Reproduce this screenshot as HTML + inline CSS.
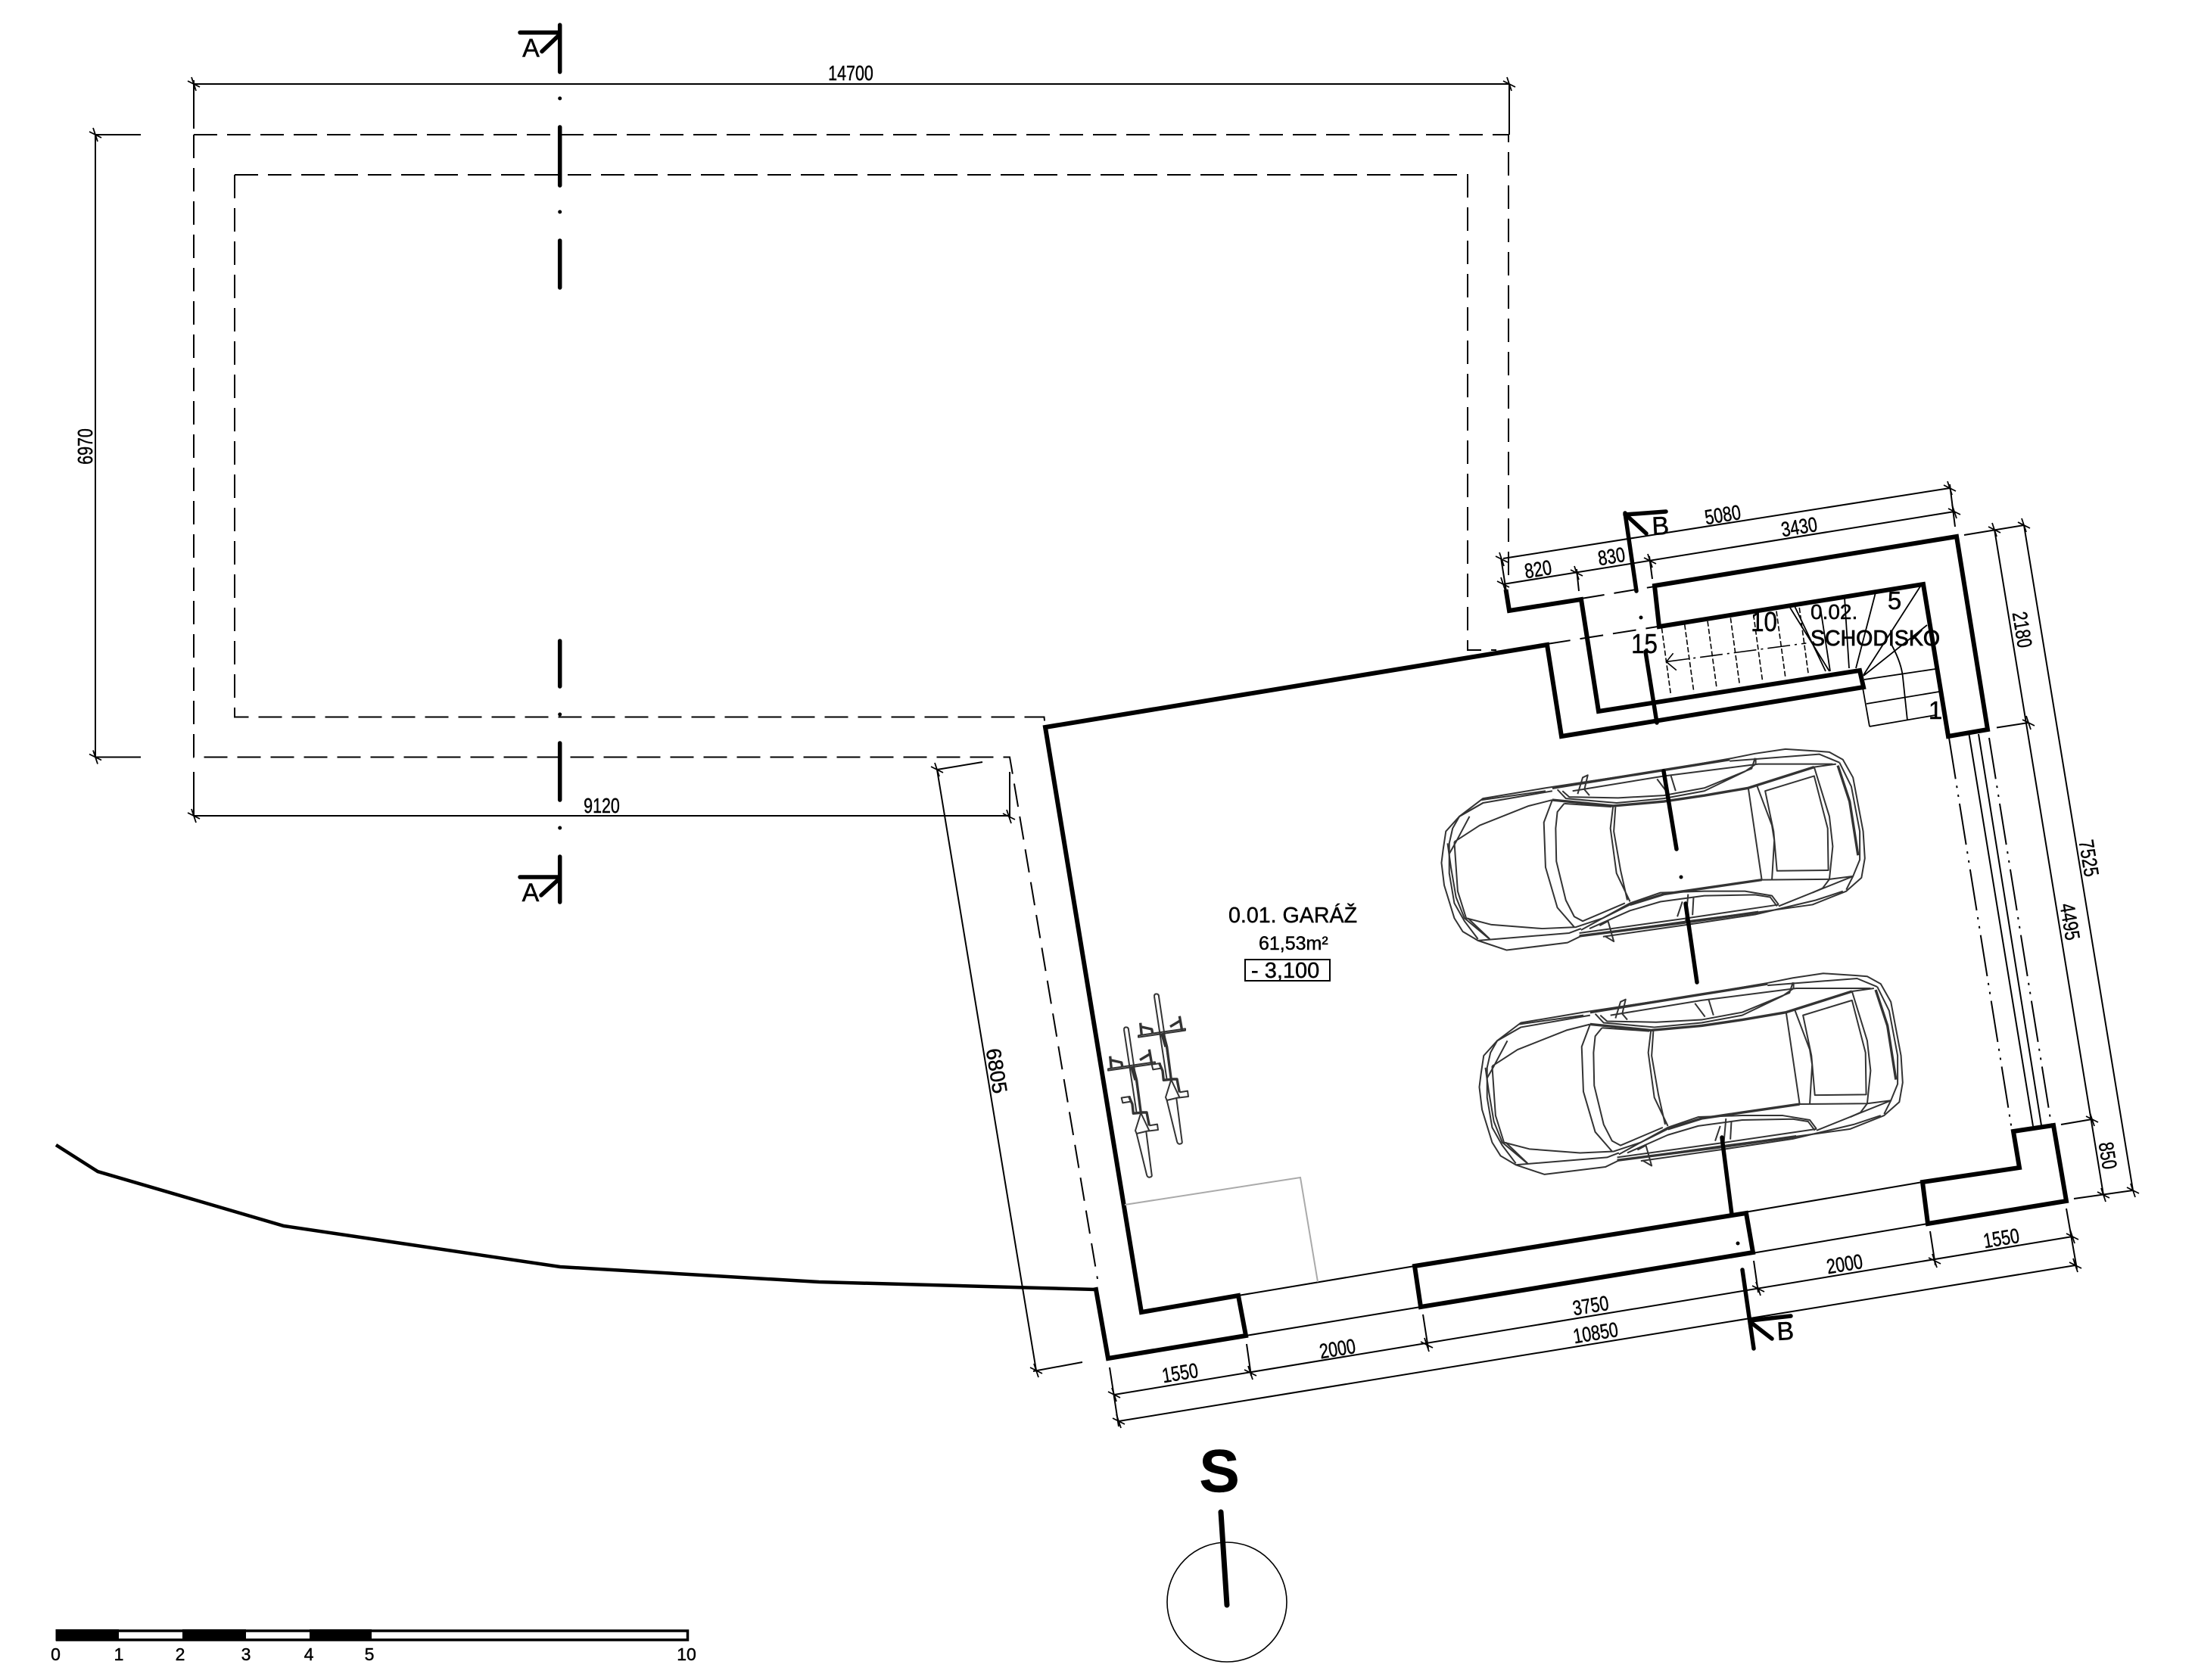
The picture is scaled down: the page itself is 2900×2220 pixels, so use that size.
<!DOCTYPE html>
<html lang="sk"><head><meta charset="utf-8"><title>Pôdorys garáže</title>
<style>
html,body{margin:0;padding:0;background:#fff;width:2900px;height:2220px;overflow:hidden}
svg{display:block}
text{font-family:"Liberation Sans",sans-serif;fill:#000;stroke:#000;stroke-width:.45}
.d{font-size:27.5px;text-anchor:middle}
.w{fill:none;stroke:#000;stroke-width:6;stroke-linejoin:miter;stroke-linecap:square}
.s{fill:none;stroke:#000;stroke-width:5.5;stroke-linecap:round}
.t{fill:none;stroke:#000;stroke-width:2}
.h{fill:none;stroke:#000;stroke-width:2;stroke-dasharray:31 13}
.c *{fill:none;stroke:#333;stroke-width:2;vector-effect:non-scaling-stroke;stroke-linejoin:round}
.c .k{stroke-width:3.4}
.st *{fill:none;stroke:#000;stroke-width:1.6;vector-effect:non-scaling-stroke}
</style></head><body>
<svg xmlns="http://www.w3.org/2000/svg" width="2900" height="2220" viewBox="0 0 2900 2220">
<defs>
<g id="t" fill="none" stroke="#000" stroke-width="1.8"><path d="M-8-4L8 4M-3-9L3 9"/></g>
<g id="car" class="c">
<path d="M430 155L245 190L175 250L135 300L127 360L122 405L130 480L160 590L185 635L230 665L315 697L495 672L535 650L850 600L1060 570L1220 545L1320 500L1365 455L1375 390L1370 300L1340 120L1310 60L1270 35L1235 32L1140 25L1050 40L975 57L780 95Z"/>
<path class="k" d="M450 155L780 95L975 60"/>
<path d="M240 195L430 165M975 65L1240 42L1300 70M530 640L850 590L1120 545M600 652L850 612L1050 578L1230 530L1310 500"/>
<path d="M175 250L245 205L450 165M160 335L235 280L380 215L450 195M140 340L150 420L165 520L190 590L262 658M145 375L165 335L205 250"/>
<path d="M160 335L170 500L195 590L270 612L420 625L520 620L600 590L680 545L780 510L900 490L1070 462L1270 460L1340 450L1320 495"/>
<path d="M450 195L425 270L430 420L465 555L515 620M485 207L465 235L460 290L462 400L490 530L515 585L540 600L665 540"/>
<path class="k" d="M450 195L630 215L780 200L900 180L1030 155L1225 85"/>
<path class="k" d="M680 545L780 510L900 490L1070 462"/>
<path d="M1225 85L1290 75M485 207L625 218M630 215L622 290L640 440L680 535M637 218L632 300L652 430L672 530"/>
<path d="M1030 155L1070 462M1055 145L1100 280L1107 330L1100 462M1080 165L1225 115L1265 290L1267 430L1115 432L1105 300Z"/>
<path d="M1225 85L1270 250L1280 350L1270 460L1250 490L1220 505"/>
<path d="M465 160L490 190L640 205L780 190L900 165L1020 100L1052 75L1052 55M480 165L500 185L645 188L780 180L900 155L1040 90L1050 55"/>
<path d="M525 175L540 120L555 112L545 160L560 180M760 125L790 170M800 110L815 165"/>
<path d="M510 165L780 115L1060 75L1280 75M245 205L175 250"/>
<path d="M535 630L680 540L770 505L900 500L1020 500L1100 515L1120 545M560 625L680 565L770 535L900 515L1050 512L1095 520L1115 550"/>
<path class="k" d="M530 650L840 605L1060 570"/>
<path d="M1120 550L1340 450"/>
<path d="M590 615L615 600L632 668L605 650M820 585L835 535M852 510L845 600M868 520L865 580M230 665L500 640L535 625M265 660L200 590"/>
<path class="k" d="M1295 80L1330 200L1355 380"/>
<path d="M1340 450L1360 395L1360 300L1335 150L1300 70M175 250L155 290L145 340L145 440L160 540L190 600L230 660"/>
</g>
<g id="bike" class="c">
<path d="M195 50Q195 40 203 40Q213 40 213 50L262 380M245 462L285 625Q288 636 297 635Q307 634 305 625L283 455M195 50L245 380"/>
<path d="M132 205L318 178L318 185L132 212Z"/>
<path class="k" d="M140 155L145 205M140 170L185 180L188 195M295 128L305 185M258 170L300 145"/>
<path class="k" d="M225 200L240 250M232 200L245 250L262 380"/>
<path class="k" d="M215 315L228 345L232 382L270 378L285 378L295 430"/>
<path d="M185 320L218 315L222 335L190 340Z"/>
<path d="M262 380L295 450L245 462L240 450Z"/>
<path d="M295 430L327 425L330 447L290 452"/>
</g>
</defs>

<!-- dashed outlines -->
<path class="h" d="M256 178H1993V760"/>
<path class="h" d="M256 178V1000.5H1334L1336 1012L1450 1690"/>
<path class="h" d="M310 231H1939V859H1977"/>
<path class="h" d="M310 231V947.5H1379.5L1381 961"/>

<!-- top left dimensions -->
<path class="t" d="M126 178V1000.5M126 178H186M126 1000.5H186"/>
<use href="#t" x="126" y="178"/><use href="#t" x="126" y="1000.5"/>
<text class="d" transform="translate(122,590) rotate(-90) scale(.78,1)">6970</text>
<path class="t" d="M256 111H1994M256 106V170M1994 111V178"/>
<use href="#t" x="256" y="111"/><use href="#t" x="1994" y="111"/>
<text class="d" transform="translate(1124,106) scale(.78,1)">14700</text>
<path class="t" d="M256 1078H1334M256 1020V1078M1334 1020V1079"/>
<use href="#t" x="256" y="1078"/><use href="#t" x="1333" y="1079"/>
<text class="d" transform="translate(795,1074) scale(.78,1)">9120</text>

<!-- 6805 -->
<path class="t" d="M1238 1017L1369 1811M1238 1017L1298 1007M1365 1812L1430 1800"/>
<use href="#t" x="1238" y="1017"/><use href="#t" x="1369" y="1811"/>
<text class="d" transform="translate(1317,1415) rotate(80.7) scale(.98,1)" dy=".35em">6805</text>

<!-- terrain -->
<path fill="none" stroke="#000" stroke-width="4.5" d="M74 1513L129 1548L375 1620L740 1674L1082 1694L1448 1704"/>

<!-- walls -->
<path class="w" d="M1448 1704L1464 1795L1646 1765L1636 1712L1508 1734L1381 961L2044 852L2063 973L2462 908L2457 886L2112 940L2089 792L1994 807L1990 782"/>
<path class="w" d="M2186 774L2585 709L2626 964L2574 973L2541 772L2192 828Z"/>
<path class="w" d="M1869 1673L2307 1603L2316 1655L1877 1727Z"/>
<path class="w" d="M2660 1495L2713 1487L2730 1587L2547 1617L2540 1562L2668 1543Z"/>

<!-- openings -->
<path class="t" d="M1636 1712L1869 1673M1646 1765L1877 1727M2305 1602L2540 1562M2315 1656L2547 1617"/>
<path class="t" stroke-dasharray="31 13" d="M2089 791L2186 775M2044 851L2190 828"/>
<path stroke="#aaa" stroke-width="2" fill="none" d="M1486 1592L1718 1556L1741 1694"/>
<path class="t" d="M2601.5 970.5L2686 1488M2614 970L2697 1487"/>
<path class="t" stroke-dasharray="55 9 3 9 3 9" d="M2575 975L2658 1493M2628 975L2710 1485"/>

<!-- stairs -->
<g class="st" transform="translate(1950,620) scale(.60606,.44643)">
<path stroke-dasharray="7 3" d="M405 470L425 670M455 460L475 660M505 450L525 650M555 440L575 640M605 430L625 630M655 420L675 620M705 410L725 610"/>
<path stroke-dasharray="30 6 3 6" d="M415 570L720 515"/>
<path d="M430 545L415 570L437 595"/>
</g>
<g fill="none" stroke="#000" stroke-width="1.8">
<path d="M2462 892L2537 775M2452 883L2478 783M2443 883L2437 790M2418 887L2405 803M2417 887L2365 803M2412 887L2371 801M2462 893L2546 826"/>
<path d="M2498 850Q2512 875 2514 895L2520 952M2463 898L2557 884M2466 930L2562 914M2470 960L2557 945M2460 903L2470 960"/>
</g>
<text x="2392" y="818" font-size="28">0.02.</text>
<text x="2392" y="853" font-size="28.5" style="stroke-width:.8">SCHODISKO</text>
<text x="2503" y="805" font-size="33" text-anchor="middle">5</text>
<text x="2557" y="950" font-size="33" text-anchor="middle">1</text>
<text transform="translate(2330.5,834) scale(.87,1)" font-size="36" text-anchor="middle">10</text>
<text transform="translate(2172.5,863) scale(.87,1)" font-size="36" text-anchor="middle">15</text>

<!-- top right dimensions -->
<path class="t" d="M1986 738L2576 645M1986 772L2582 676M1983 737L1992 794M2083 752L2086 781M2179 735L2183 765M2576 640L2583 696"/>
<use href="#t" x="1984" y="739"/><use href="#t" x="1986" y="772"/><use href="#t" x="2083" y="757"/><use href="#t" x="2180" y="741"/><use href="#t" x="2576" y="645"/><use href="#t" x="2582" y="676"/>
<text class="d" transform="translate(2032,752) rotate(-9.3) scale(.78,1)" dy=".35em">820</text>
<text class="d" transform="translate(2129,735) rotate(-9.3) scale(.78,1)" dy=".35em">830</text>
<text class="d" transform="translate(2276,680) rotate(-9.3) scale(.78,1)" dy=".35em">5080</text>
<text class="d" transform="translate(2377,696) rotate(-9.3) scale(.78,1)" dy=".35em">3430</text>

<!-- right dimensions -->
<path class="t" d="M2674 694L2818 1573M2635 699.5L2779 1579M2595 707L2674 694M2638 961.5L2680 955M2723 1486L2764 1479M2740 1584L2818 1573"/>
<use href="#t" x="2674" y="694"/><use href="#t" x="2635" y="700"/><use href="#t" x="2680" y="955"/><use href="#t" x="2764" y="1479"/><use href="#t" x="2779" y="1579"/><use href="#t" x="2818" y="1573"/>
<text class="d" transform="translate(2672,832) rotate(80.7) scale(.78,1)" dy=".35em">2180</text>
<text class="d" transform="translate(2760,1134) rotate(80.7) scale(.8,1)" dy=".35em">7525</text>
<text class="d" transform="translate(2735,1218) rotate(80.7) scale(.8,1)" dy=".35em">4495</text>
<text class="d" transform="translate(2785,1527) rotate(80.7) scale(.78,1)" dy=".35em">850</text>

<!-- bottom dimensions -->
<path class="t" d="M1472 1843L2738 1634M1478 1878L2742 1672M1466 1807L1478 1885M1647 1776L1653 1818M1880 1737L1887 1782M2317 1666L2323 1708M2550 1627L2557 1672M2730 1597L2744 1677"/>
<use href="#t" x="1472" y="1843"/><use href="#t" x="1652" y="1814"/><use href="#t" x="1885" y="1777"/><use href="#t" x="2323" y="1703"/><use href="#t" x="2556" y="1666"/><use href="#t" x="2738" y="1634"/><use href="#t" x="1478" y="1878"/><use href="#t" x="2742" y="1672"/>
<text class="d" transform="translate(1559,1814) rotate(-9.3) scale(.78,1)" dy=".35em">1550</text>
<text class="d" transform="translate(1767,1782) rotate(-9.3) scale(.78,1)" dy=".35em">2000</text>
<text class="d" transform="translate(2101.5,1725) rotate(-9.3) scale(.78,1)" dy=".35em">3750</text>
<text class="d" transform="translate(2108,1761) rotate(-9.3) scale(.78,1)" dy=".35em">10850</text>
<text class="d" transform="translate(2437,1670) rotate(-9.3) scale(.78,1)" dy=".35em">2000</text>
<text class="d" transform="translate(2644,1636) rotate(-9.3) scale(.78,1)" dy=".35em">1550</text>

<!-- cars and bikes -->
<use href="#car" transform="translate(1850,980) scale(.4464,.3953)"/>
<use href="#car" transform="translate(1900,1276.4) scale(.4464,.3953)"/>
<use href="#bike" transform="translate(1460,1300) scale(.33333)"/>
<use href="#bike" transform="translate(1420,1344) scale(.33333)"/>

<!-- section A -->
<path class="s" d="M739.7 33V95M739.7 168V245M739.7 318V380M687 43H739M716 68L738 47"/>
<circle cx="739.7" cy="130" r="2.5"/><circle cx="739.7" cy="280" r="2.5"/>
<text x="701.5" y="75" font-size="34" text-anchor="middle">A</text>
<path class="s" d="M739.7 847V907M739.7 982V1057M739.7 1132V1192M687 1159H739M715 1183L738 1162"/>
<circle cx="739.7" cy="944" r="2.5"/><circle cx="739.7" cy="1094" r="2.5"/>
<text x="701" y="1191" font-size="34" text-anchor="middle">A</text>

<!-- section B -->
<path class="s" d="M2147 678L2162 781M2147 680L2201 676M2150 682L2175 705M2174 861L2189 955M2198 1019L2215 1122M2227 1194L2242 1298M2275 1503L2288 1605M2302 1678L2317 1782M2312 1745L2366 1739M2314 1748L2341 1769"/>
<circle cx="2168" cy="816" r="2.5"/><circle cx="2221" cy="1159" r="2.5"/><circle cx="2296" cy="1643" r="2.5"/>
<text x="2183" y="707" font-size="34" transform="rotate(-3 2183 707)">B</text>
<text x="2348" y="1771" font-size="34" transform="rotate(-3 2348 1771)">B</text>

<!-- room label -->
<text x="1623" y="1219" font-size="28.6">0.01. GARÁŽ</text>
<text x="1663" y="1255" font-size="25">61,53m²</text>
<rect x="1645" y="1268" width="112" height="28" fill="none" stroke="#000" stroke-width="2"/>
<text x="1653" y="1292" font-size="29">- 3,100</text>

<!-- compass -->
<circle cx="1621" cy="2117" r="79" fill="none" stroke="#000" stroke-width="1.6"/>
<path d="M1613 1998L1621 2121" fill="none" stroke="#000" stroke-width="7" stroke-linecap="round"/>
<text x="1611" y="1971" font-size="80" font-weight="bold" text-anchor="middle">S</text>

<!-- scale bar -->
<rect x="75.5" y="2155" width="833" height="12" fill="none" stroke="#000" stroke-width="3.5"/>
<path fill="#000" d="M73.5 2153H157V2168H73.5ZM241 2153H325V2168H241ZM409 2153H491V2168H409Z"/>
<g font-size="23" text-anchor="middle">
<text x="73.5" y="2194">0</text><text x="157" y="2194">1</text><text x="238" y="2194">2</text><text x="325" y="2194">3</text><text x="408" y="2194">4</text><text x="488" y="2194">5</text><text x="907" y="2194">10</text>
</g>
</svg>
</body></html>
